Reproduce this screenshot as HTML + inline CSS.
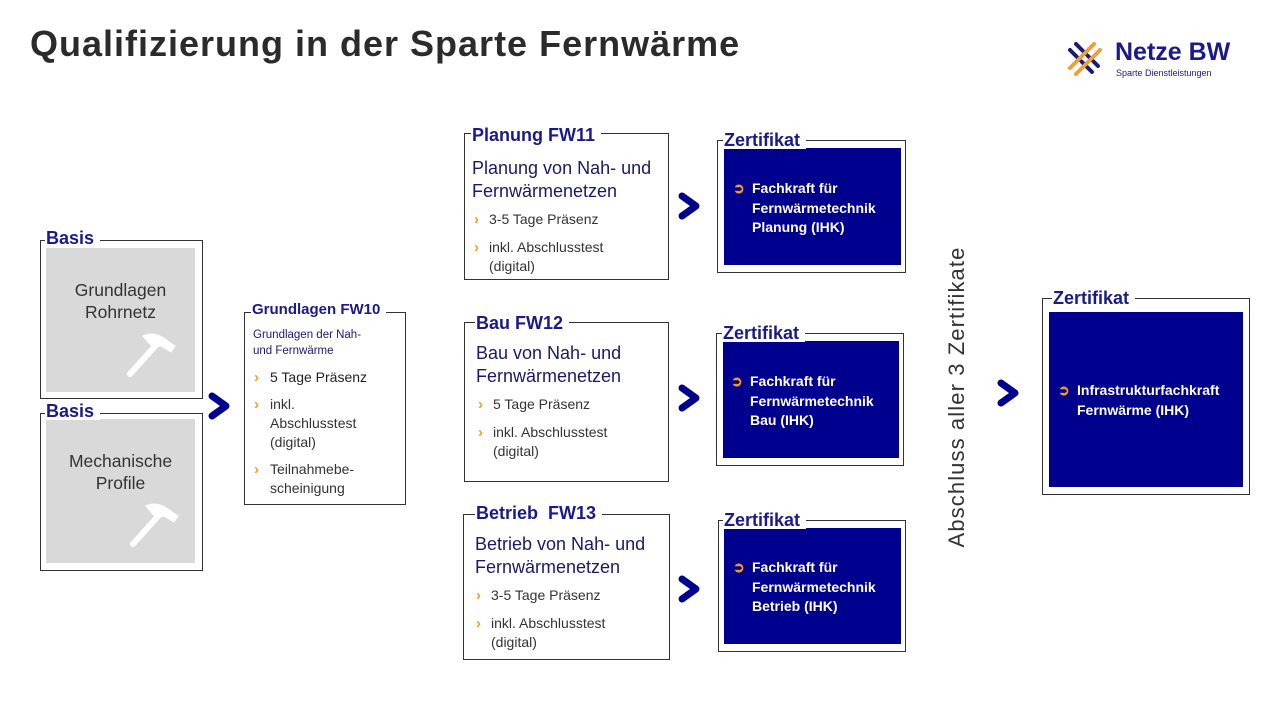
<!DOCTYPE html>
<html><head><meta charset="utf-8"><style>
body{margin:0;width:1274px;height:713px;background:#fff;position:relative;overflow:hidden;font-family:"Liberation Sans",sans-serif;}
.a{position:absolute;}
.box{position:absolute;border:1px solid #333;box-sizing:border-box;}
.lbl{position:absolute;background:#fff;color:#1a1a8a;font-weight:bold;padding:0 6px 0 1px;line-height:1;white-space:nowrap;}
.gray{position:absolute;background:#d9d9d9;color:#333;font-size:17.5px;text-align:center;line-height:22px;}
.navy{position:absolute;background:#00008f;}
.ct{position:absolute;color:#fff;font-weight:bold;font-size:14px;line-height:19.5px;white-space:nowrap;}
.ct span{color:#f39a2a;position:absolute;left:-19px;top:0;}
.t{position:absolute;white-space:nowrap;color:#333;font-size:14px;line-height:19px;}
.b{position:absolute;color:#f0a020;font-weight:bold;font-size:15px;line-height:17px;}
.nv{position:absolute;color:#1a1a6a;font-size:18px;line-height:23px;white-space:nowrap;}
.z{font-size:18px;}
</style></head><body>
<div class="a" style="left:30px;top:23px;font-size:36px;font-weight:bold;color:#2b2b2b;letter-spacing:1px">Qualifizierung in der Sparte Fernwärme</div>
<!-- logo -->
<svg class="a" style="left:1066px;top:40px" width="40" height="40" viewBox="0 0 40 40">
<g stroke-width="4" stroke-linecap="round">
<line x1="4" y1="10" x2="14" y2="20" stroke="#1a1a7a"/><line x1="16" y1="22" x2="26" y2="32" stroke="#1a1a7a"/>
<line x1="10" y1="4" x2="20" y2="14" stroke="#1a1a7a"/><line x1="22" y1="16" x2="32" y2="26" stroke="#1a1a7a"/>
<line x1="4" y1="28" x2="28" y2="4" stroke="#f0a030"/><line x1="10" y1="34" x2="34" y2="10" stroke="#f0a030"/>
</g></svg>
<div class="a" style="left:1115px;top:40px;font-size:25px;font-weight:bold;color:#1a1a8a;line-height:1">Netze BW</div>
<div class="a" style="left:1116px;top:68px;font-size:9px;color:#1a1a8a">Sparte Dienstleistungen</div>

<!-- Basis -->
<div class="box" style="left:40px;top:240px;width:163px;height:159px"></div>
<div class="gray" style="left:46px;top:248px;width:149px;height:144px"><div style="padding-top:31px">Grundlagen<br>Rohrnetz</div></div>
<div class="lbl" style="left:45px;top:229px;font-size:18px">Basis</div>
<div class="box" style="left:40px;top:413px;width:163px;height:158px"></div>
<div class="gray" style="left:46px;top:419px;width:149px;height:144px"><div style="padding-top:31px">Mechanische<br>Profile</div></div>
<div class="lbl" style="left:45px;top:402px;font-size:18px">Basis</div>
<svg class="a" style="left:125px;top:330px" width="55" height="50" viewBox="0 0 55 50"><g stroke="#fff" stroke-linecap="round"><line x1="5" y1="44" x2="32" y2="14" stroke-width="6"/><path d="M18 6 Q30 0 44 12 L50 16 L46 22 L36 16 L28 18 Z" fill="#fff" stroke-width="1"/></g></svg>
<svg class="a" style="left:128px;top:500px" width="55" height="50" viewBox="0 0 55 50"><g stroke="#fff" stroke-linecap="round"><line x1="5" y1="44" x2="32" y2="14" stroke-width="6"/><path d="M18 6 Q30 0 44 12 L50 16 L46 22 L36 16 L28 18 Z" fill="#fff" stroke-width="1"/></g></svg>

<!-- chevrons -->
<svg class="a" style="left:207px;top:391px" width="26" height="30"><polyline points="5,5 19,15 5,25" fill="none" stroke="#00008f" stroke-width="7" stroke-linecap="round" stroke-linejoin="round"/></svg>
<svg class="a" style="left:677px;top:191px" width="26" height="30"><polyline points="5,5 19,15 5,25" fill="none" stroke="#00008f" stroke-width="7" stroke-linecap="round" stroke-linejoin="round"/></svg>
<svg class="a" style="left:677px;top:383px" width="26" height="30"><polyline points="5,5 19,15 5,25" fill="none" stroke="#00008f" stroke-width="7" stroke-linecap="round" stroke-linejoin="round"/></svg>
<svg class="a" style="left:677px;top:574px" width="26" height="30"><polyline points="5,5 19,15 5,25" fill="none" stroke="#00008f" stroke-width="7" stroke-linecap="round" stroke-linejoin="round"/></svg>
<svg class="a" style="left:996px;top:378px" width="26" height="30"><polyline points="5,5 19,15 5,25" fill="none" stroke="#00008f" stroke-width="7" stroke-linecap="round" stroke-linejoin="round"/></svg>

<!-- FW10 -->
<div class="box" style="left:244px;top:312px;width:162px;height:193px"></div>
<div class="lbl" style="left:251px;top:302px;font-size:15px">Grundlagen FW10</div>
<div class="a" style="left:253px;top:327px;font-size:11.5px;line-height:16px;color:#1a1a7a">Grundlagen der Nah-<br>und Fernwärme</div>
<div class="b" style="left:254px;top:369px">›</div><div class="t" style="left:270px;top:368px;color:#222">5 Tage Präsenz</div>
<div class="b" style="left:254px;top:396px">›</div><div class="t" style="left:270px;top:395px">inkl.<br>Abschlusstest<br>(digital)</div>
<div class="b" style="left:254px;top:461px">›</div><div class="t" style="left:270px;top:460px">Teilnahmebe-<br>scheinigung</div>

<!-- Planung -->
<div class="box" style="left:464px;top:133px;width:205px;height:147px"></div>
<div class="lbl" style="left:471px;top:126px;font-size:18px">Planung FW11</div>
<div class="nv" style="left:472px;top:157px">Planung von Nah- und<br>Fernwärmenetzen</div>
<div class="b" style="left:474px;top:211px">›</div><div class="t" style="left:489px;top:210px">3-5 Tage Präsenz</div>
<div class="b" style="left:474px;top:239px">›</div><div class="t" style="left:489px;top:238px">inkl. Abschlusstest<br>(digital)</div>

<!-- Bau -->
<div class="box" style="left:464px;top:322px;width:205px;height:160px"></div>
<div class="lbl" style="left:475px;top:314px;font-size:18px">Bau FW12</div>
<div class="nv" style="left:476px;top:342px">Bau von Nah- und<br>Fernwärmenetzen</div>
<div class="b" style="left:478px;top:396px">›</div><div class="t" style="left:493px;top:395px">5 Tage Präsenz</div>
<div class="b" style="left:478px;top:424px">›</div><div class="t" style="left:493px;top:423px">inkl. Abschlusstest<br>(digital)</div>

<!-- Betrieb -->
<div class="box" style="left:463px;top:514px;width:207px;height:146px"></div>
<div class="lbl" style="left:475px;top:504px;font-size:18px">Betrieb&nbsp; FW13</div>
<div class="nv" style="left:475px;top:533px">Betrieb von Nah- und<br>Fernwärmenetzen</div>
<div class="b" style="left:476px;top:587px">›</div><div class="t" style="left:491px;top:586px">3-5 Tage Präsenz</div>
<div class="b" style="left:476px;top:615px">›</div><div class="t" style="left:491px;top:614px">inkl. Abschlusstest<br>(digital)</div>

<!-- Zertifikate -->
<div class="box" style="left:717px;top:140px;width:189px;height:133px"></div>
<div class="navy" style="left:724px;top:148px;width:177px;height:117px"></div>
<div class="lbl z" style="left:723px;top:131px">Zertifikat</div>
<div class="ct" style="left:752px;top:179px"><span>➲</span>Fachkraft für<br>Fernwärmetechnik<br>Planung (IHK)</div>

<div class="box" style="left:716px;top:333px;width:188px;height:133px"></div>
<div class="navy" style="left:723px;top:341px;width:176px;height:117px"></div>
<div class="lbl z" style="left:722px;top:324px">Zertifikat</div>
<div class="ct" style="left:750px;top:372px"><span>➲</span>Fachkraft für<br>Fernwärmetechnik<br>Bau (IHK)</div>

<div class="box" style="left:718px;top:520px;width:188px;height:132px"></div>
<div class="navy" style="left:724px;top:528px;width:177px;height:116px"></div>
<div class="lbl z" style="left:723px;top:511px">Zertifikat</div>
<div class="ct" style="left:752px;top:558px"><span>➲</span>Fachkraft für<br>Fernwärmetechnik<br>Betrieb (IHK)</div>

<div class="a" style="left:957px;top:397px;transform:translate(-50%,-50%) rotate(-90deg);font-size:22px;letter-spacing:1.1px;color:#333;white-space:nowrap">Abschluss aller 3 Zertifikate</div>

<div class="box" style="left:1042px;top:298px;width:208px;height:197px"></div>
<div class="navy" style="left:1049px;top:312px;width:194px;height:175px"></div>
<div class="lbl z" style="left:1052px;top:289px">Zertifikat</div>
<div class="ct" style="left:1077px;top:381px"><span>➲</span>Infrastrukturfachkraft<br>Fernwärme (IHK)</div>
</body></html>
